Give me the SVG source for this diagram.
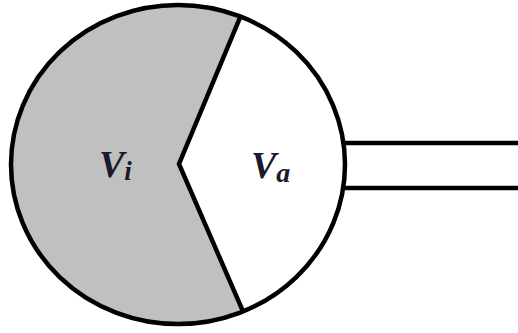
<svg xmlns="http://www.w3.org/2000/svg" width="518" height="333" viewBox="0 0 518 333">
<style>
.o{fill:none;stroke:#000;stroke-width:4.5}
.t{font-family:"Liberation Serif",serif;font-weight:bold;font-style:italic;fill:#1a1a2a}
</style>
<rect width="518" height="333" fill="#fff"/>
<g id="tube">
<line class="o" x1="345" y1="143" x2="518" y2="143"/>
<line class="o" x1="345" y1="188" x2="518" y2="188"/>
</g>
<g id="vi">
<path d="M240,17.6 A167,159.5 0 1 0 243,311.4 L179,164 Z" fill="#c0c0c0"/>
<text class="t" x="99" y="177" font-size="38">V<tspan font-size="27" dy="3">i</tspan></text>
</g>
<g id="va">
<text class="t" x="251" y="178" font-size="38">V<tspan font-size="28" dy="4">a</tspan></text>
</g>
<g id="outline">
<ellipse class="o" cx="178" cy="164.5" rx="167" ry="159.5"/>
<polyline class="o" points="240,17.6 179,164 243,311.4" stroke-linejoin="miter"/>
</g>
</svg>
